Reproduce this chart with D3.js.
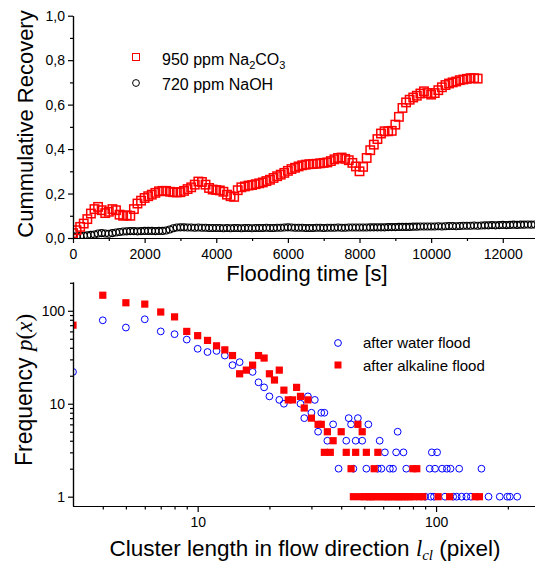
<!DOCTYPE html>
<html>
<head>
<meta charset="utf-8">
<script src="https://d3js.org/d3.v7.min.js"></script>
<style>
  body { margin: 0; background: #fff; }
  text { font-family: "Liberation Sans", Arial, sans-serif; fill: #000; }
  .axis path, .axis line { stroke: #000; stroke-width: 1.2; }
</style>
</head>
<body>
<svg id="chart" width="535" height="562"></svg>
<script>
// ---- top panel : cumulative recovery vs flooding time ----
const na2co3Step = 100; // s between recorded points
const na2co3Recovery = [
  0.022, 0.035, 0.050, 0.065, 0.085, 0.110, 0.130, 0.140, 0.125, 0.112,
  0.118, 0.130, 0.125, 0.105, 0.100, 0.102, 0.100, 0.130, 0.155, 0.168,
  0.180, 0.188, 0.195, 0.203, 0.210, 0.212, 0.212, 0.208, 0.206, 0.205,
  0.206, 0.212, 0.220, 0.228, 0.240, 0.254, 0.252, 0.240, 0.225, 0.218,
  0.216, 0.214, 0.208, 0.195, 0.188, 0.185, 0.215, 0.228, 0.232, 0.236,
  0.238, 0.242, 0.246, 0.250, 0.256, 0.262, 0.270, 0.278, 0.285, 0.293,
  0.302, 0.310, 0.316, 0.322, 0.327, 0.330, 0.332, 0.333, 0.334, 0.336,
  0.338, 0.340, 0.346, 0.354, 0.360, 0.362, 0.356, 0.350, 0.338, 0.322,
  0.300, 0.320, 0.360, 0.395, 0.420, 0.445, 0.470, 0.480, 0.480, 0.482,
  0.510, 0.545, 0.585, 0.610, 0.622, 0.632, 0.640, 0.650, 0.660, 0.652,
  0.645, 0.652, 0.665, 0.678, 0.688, 0.695, 0.700, 0.704, 0.710, 0.713,
  0.716, 0.719, 0.719, 0.717
];
const naohStep = 100;
const naohRecovery = [
  0.008, 0.008, 0.009, 0.010, 0.012, 0.014,
  0.016, 0.020, 0.022, 0.020, 0.019, 0.022, 0.025, 0.027, 0.029, 0.030,
  0.031, 0.031, 0.030, 0.031, 0.032, 0.032, 0.032, 0.031, 0.032, 0.032,
  0.034, 0.038, 0.044, 0.047, 0.048, 0.048, 0.047, 0.047, 0.046, 0.047,
  0.046, 0.046, 0.045, 0.045, 0.045, 0.045, 0.044, 0.045, 0.044, 0.045,
  0.045, 0.044, 0.045, 0.045, 0.044, 0.045, 0.045, 0.045, 0.046, 0.045,
  0.045, 0.046, 0.046, 0.047, 0.048, 0.047, 0.046, 0.046, 0.046, 0.045,
  0.045, 0.045, 0.046, 0.046, 0.045, 0.046, 0.046, 0.046, 0.047, 0.046,
  0.046, 0.047, 0.047, 0.047, 0.047, 0.047, 0.047, 0.048, 0.048, 0.048,
  0.048, 0.048, 0.049, 0.049, 0.049, 0.050, 0.050, 0.050, 0.050, 0.051,
  0.051, 0.052, 0.052, 0.052, 0.052, 0.052, 0.053, 0.052, 0.053, 0.054,
  0.054, 0.053, 0.054, 0.055, 0.055, 0.055, 0.056, 0.055, 0.056, 0.057,
  0.057, 0.058, 0.057, 0.058, 0.059, 0.058, 0.059, 0.060, 0.059, 0.060,
  0.060, 0.061, 0.060, 0.061
];
const timeTicks = [0, 2000, 4000, 6000, 8000, 10000, 12000];
const timeMinor = [1000, 3000, 5000, 7000, 9000, 11000];
const recoveryTicks = [0, 0.2, 0.4, 0.6, 0.8, 1.0];
const recoveryMinor = [0.1, 0.3, 0.5, 0.7, 0.9];

// ---- bottom panel : cluster length histogram ----
const waterLength = [3, 4, 5, 6, 7, 8, 9, 10, 11, 12, 13, 14, 15, 17, 18, 19, 20, 22, 23,
  27, 28, 29, 30, 31, 32, 33, 34, 35, 37, 39, 42, 43, 44, 45, 46, 47, 49, 51, 52,
  57, 58, 59, 61, 64, 66, 68, 69, 73, 75, 90, 94, 95, 96, 98, 99, 101, 106, 109, 111,
  115, 118, 122, 125, 128, 134, 140, 155, 166, 185, 199, 204, 219];
const waterFreq = [22, 79, 66, 81, 60, 56, 49, 39, 36, 37, 33, 26, 28, 22, 17, 15, 12, 11, 10,
  10, 7, 12, 8, 11, 5, 8, 8, 4, 6, 2, 4, 7, 6, 2, 4, 7, 4, 2, 6,
  2, 4, 2, 3, 2, 2, 3, 5, 3, 2, 1, 2, 1, 3, 1, 2, 3, 2, 1, 2,
  2, 1, 1, 2, 1, 1, 1, 2, 1, 1, 1, 1, 1];
const alkaliLength = [3, 4, 5, 6, 7, 8, 9, 10, 11, 12, 13, 14, 15, 16, 17, 18, 19, 20, 21, 22,
  23, 24, 25, 26, 27, 28, 29, 30, 32, 33, 34, 35, 36, 37, 40, 42, 44, 45, 46, 47,
  48, 49, 50, 51, 52, 53, 54, 55, 56, 57, 58, 60, 62, 63, 65, 67, 69, 70, 72, 74,
  76, 78, 80, 81, 83, 85, 88, 102, 114, 146, 152];
const alkaliFreq = [70, 147, 122, 118, 97, 86, 60, 54, 48, 42, 38, 33, 21, 23, 26, 33, 31, 21, 18, 23,
  14, 11, 11, 15, 12, 9, 11, 7, 6, 6, 3, 5, 3, 4, 5, 3, 2, 1, 3, 6,
  1, 5, 1, 3, 1, 1, 1, 2, 1, 3, 1, 1, 1, 1, 1, 1, 1, 1, 1, 1,
  1, 1, 2, 1, 2, 1, 1, 1, 1, 1, 1];
const lengthTicks = [10, 100];
const lengthMinor = [4, 5, 6, 7, 8, 9, 20, 30, 40, 50, 60, 70, 80, 90, 200];
const freqTicks = [1, 10, 100];
const freqMinor = [2, 3, 4, 5, 6, 7, 8, 9, 20, 30, 40, 50, 60, 70, 80, 90, 200];

const svg = d3.select("#chart");
const comma = d3.formatLocale({ decimal: ",", thousands: ".", grouping: [3], currency: ["", ""] });

// ======== top panel ========
const x1 = d3.scaleLinear().domain([0, 12900]).range([73, 535]);
const y1 = d3.scaleLinear().domain([0, 1]).range([238, 15.7]);

svg.append("clipPath").attr("id", "clipTop")
  .append("rect").attr("x", 73).attr("y", 0).attr("width", 462).attr("height", 238);

const topPanel = svg.append("g").attr("clip-path", "url(#clipTop)");

const naoh = naohRecovery.map((v, i) => ({ t: i * naohStep, v }));
const na2co3 = na2co3Recovery.map((v, i) => ({ t: i * na2co3Step, v }));

topPanel.selectAll("circle.naoh")
  .data(naoh)
  .join("circle")
  .attr("class", "naoh")
  .attr("cx", (d) => x1(d.t))
  .attr("cy", (d) => y1(d.v))
  .attr("r", 3.5)
  .attr("fill", "none")
  .attr("stroke", "#000")
  .attr("stroke-width", 1.1);

topPanel.selectAll("rect.na2co3")
  .data(na2co3)
  .join("rect")
  .attr("class", "na2co3")
  .attr("x", (d) => x1(d.t) - 4.2)
  .attr("y", (d) => y1(d.v) - 4.2)
  .attr("width", 8.4)
  .attr("height", 8.4)
  .attr("fill", "none")
  .attr("stroke", "#ff0000")
  .attr("stroke-width", 1.5);

// axes (minor ticks drawn first, no labels)
svg.append("g").attr("class", "axis")
  .attr("transform", `translate(0, ${y1(0)})`)
  .call(d3.axisBottom(x1).tickValues(timeMinor).tickSize(3).tickSizeOuter(0).tickFormat(""));
svg.append("g").attr("class", "axis")
  .attr("transform", `translate(0, ${y1(0)})`)
  .call(d3.axisBottom(x1).tickValues(timeTicks).tickSize(5).tickPadding(6).tickSizeOuter(0)
    .tickFormat(d3.format("d")))
  .selectAll("text").style("font-size", "14px");

svg.append("g").attr("class", "axis")
  .attr("transform", `translate(${x1(0)}, 0)`)
  .call(d3.axisLeft(y1).tickValues(recoveryMinor).tickSize(3).tickSizeOuter(0).tickFormat(""));
svg.append("g").attr("class", "axis")
  .attr("transform", `translate(${x1(0)}, 0)`)
  .call(d3.axisLeft(y1).tickValues(recoveryTicks).tickSize(5).tickPadding(3).tickSizeOuter(0)
    .tickFormat(comma.format(".1f")))
  .selectAll("text").style("font-size", "14px");

svg.append("text")
  .attr("x", 307).attr("y", 281)
  .attr("text-anchor", "middle")
  .style("font-size", "22px")
  .text("Flooding time [s]");

svg.append("text")
  .attr("transform", "translate(33, 124) rotate(-90)")
  .attr("text-anchor", "middle")
  .style("font-size", "22px")
  .text("Cummulative Recovery");

// legend top
svg.append("rect")
  .attr("x", 132.5).attr("y", 53.5).attr("width", 7).attr("height", 7)
  .attr("fill", "none").attr("stroke", "#ff0000");
const lg1 = svg.append("text").attr("x", 162).attr("y", 65).style("font-size", "16px");
lg1.append("tspan").text("950 ppm Na");
lg1.append("tspan").attr("dy", 4).style("font-size", "11px").text("2");
lg1.append("tspan").attr("dy", -4).text("CO");
lg1.append("tspan").attr("dy", 4).style("font-size", "11px").text("3");

svg.append("circle")
  .attr("cx", 136).attr("cy", 83).attr("r", 3.4)
  .attr("fill", "none").attr("stroke", "#000");
svg.append("text").attr("x", 162).attr("y", 90).style("font-size", "16px").text("720 ppm NaOH");

// ======== bottom panel ========
const x2 = d3.scaleLog().domain([3, 260]).range([73, 535]);
const y2 = d3.scaleLog().domain([0.794, 204]).range([506, 282]);

svg.append("clipPath").attr("id", "clipBottom")
  .append("rect").attr("x", 73).attr("y", 270).attr("width", 462).attr("height", 236);

const bottomPanel = svg.append("g").attr("clip-path", "url(#clipBottom)");

const water = waterLength.map((n, i) => ({ n, f: waterFreq[i] }));
const alkali = alkaliLength.map((n, i) => ({ n, f: alkaliFreq[i] }));

bottomPanel.selectAll("circle.water")
  .data(water)
  .join("circle")
  .attr("class", "water")
  .attr("cx", (d) => x2(d.n))
  .attr("cy", (d) => y2(d.f))
  .attr("r", 3.4)
  .attr("fill", "none")
  .attr("stroke", "#0000ff")
  .attr("stroke-width", 1);

bottomPanel.selectAll("rect.alkali")
  .data(alkali)
  .join("rect")
  .attr("class", "alkali")
  .attr("x", (d) => x2(d.n) - 3.6)
  .attr("y", (d) => y2(d.f) - 3.6)
  .attr("width", 7.2)
  .attr("height", 7.2)
  .attr("fill", "#ff0000");

svg.append("g").attr("class", "axis")
  .attr("transform", `translate(0, ${y2.range()[0]})`)
  .call(d3.axisBottom(x2).tickValues(lengthMinor).tickSize(3.5).tickSizeOuter(0).tickFormat(""));
svg.append("g").attr("class", "axis")
  .attr("transform", `translate(0, ${y2.range()[0]})`)
  .call(d3.axisBottom(x2).tickValues(lengthTicks).tickSize(6).tickPadding(5).tickSizeOuter(0)
    .tickFormat(d3.format("d")))
  .selectAll("text").style("font-size", "14px");

svg.append("g").attr("class", "axis")
  .attr("transform", `translate(${x2.range()[0]}, 0)`)
  .call(d3.axisLeft(y2).tickValues(freqMinor).tickSize(3).tickSizeOuter(0).tickFormat(""));
svg.append("g").attr("class", "axis")
  .attr("transform", `translate(${x2.range()[0]}, 0)`)
  .call(d3.axisLeft(y2).tickValues(freqTicks).tickSize(5).tickPadding(3).tickSizeOuter(0)
    .tickFormat(d3.format("d")))
  .selectAll("text").style("font-size", "14px");

const xt = svg.append("text")
  .attr("x", 305).attr("y", 556)
  .attr("text-anchor", "middle")
  .style("font-size", "22.5px");
xt.append("tspan").text("Cluster length in flow direction ");
xt.append("tspan").style("font-family", "'Liberation Serif', serif").style("font-style", "italic").text("l");
xt.append("tspan").attr("dy", 4).style("font-family", "'Liberation Serif', serif")
  .style("font-style", "italic").style("font-size", "15px").text("cl");
xt.append("tspan").attr("dy", -4).text(" (pixel)");

const yt = svg.append("text")
  .attr("transform", "translate(32, 390) rotate(-90)")
  .attr("text-anchor", "middle")
  .style("font-size", "23px");
yt.append("tspan").text("Frequency ");
yt.append("tspan").style("font-family", "'Liberation Serif', serif").style("font-style", "italic").text("p");
yt.append("tspan").style("font-family", "'Liberation Serif', serif").text("(");
yt.append("tspan").style("font-family", "'Liberation Serif', serif").style("font-style", "italic").text("x");
yt.append("tspan").style("font-family", "'Liberation Serif', serif").text(")");

// legend bottom
svg.append("circle")
  .attr("cx", 338).attr("cy", 343).attr("r", 3.4)
  .attr("fill", "none").attr("stroke", "#0000ff");
svg.append("text").attr("x", 363).attr("y", 348).style("font-size", "15px").text("after water flood");
svg.append("rect")
  .attr("x", 334.5).attr("y", 361.5).attr("width", 7).attr("height", 7)
  .attr("fill", "#ff0000");
svg.append("text").attr("x", 363).attr("y", 370.5).style("font-size", "15px").text("after alkaline flood");
</script>
</body>
</html>
